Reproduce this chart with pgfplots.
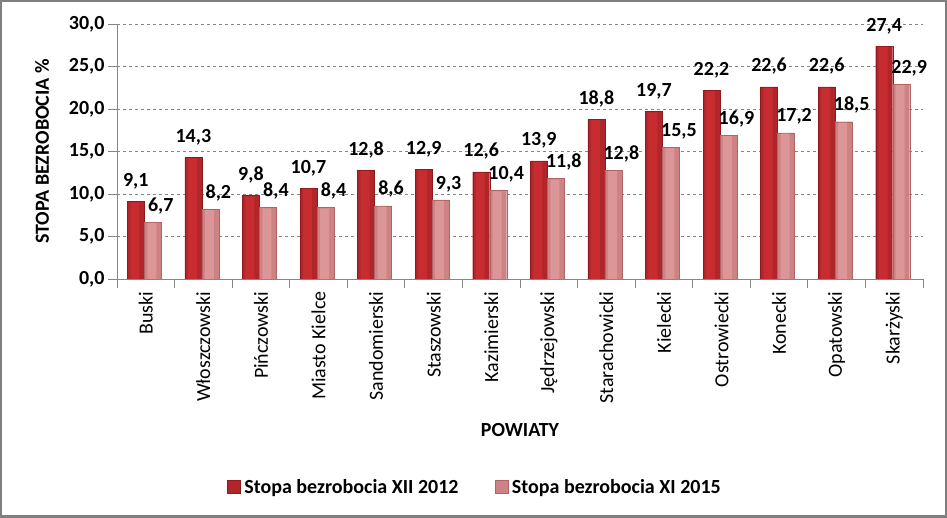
\documentclass[border=0pt]{standalone}
\usepackage{fontspec}
\setmainfont{Carlito}
\usepackage{pgfplots}
\usepackage{pgfplotstable}
\pgfplotsset{compat=1.18}

\definecolor{darkbar}{HTML}{C62C30}
\definecolor{darkmid}{HTML}{B0262A}
\definecolor{darkedge}{HTML}{8E1A1D}
\definecolor{lightbar}{HTML}{DC9697}
\definecolor{lightmid}{HTML}{CD8284}
\definecolor{lightedge}{HTML}{B06466}
\definecolor{axisgray}{HTML}{868686}
\definecolor{framegray}{HTML}{7F7F7F}

\newcommand{\chfont}{\fontsize{20}{24}\selectfont}

% x, XII 2012, XI 2015
\pgfplotstableread{
x  a     b
0  9.1   6.7
1  14.3  8.2
2  9.8   8.4
3  10.7  8.4
4  12.8  8.6
5  12.9  9.3
6  12.6  10.4
7  13.9  11.8
8  18.8  12.8
9  19.7  15.5
10 22.2  16.9
11 22.6  17.2
12 22.6  18.5
13 27.4  22.9
}\datatable

\begin{document}
\begin{tikzpicture}
\useasboundingbox (-117pt,-239pt) rectangle (830pt,279pt);
\begin{axis}[
    at={(0pt,0pt)}, anchor=south west,
    scale only axis,
    width=806pt, height=255pt,
    ybar=0pt, bar width=17pt,
    ymin=0, ymax=30, ytick={0,5,...,30},
    xmin=-0.5, xmax=13.5,
    xtick={0,...,13},
    xticklabels={Buski, Włoszczowski, Pińczowski, Miasto Kielce, Sandomierski,
        Staszowski, Kazimierski, Jędrzejowski, Starachowicki, Kielecki,
        Ostrowiecki, Konecki, Opatowski, Skarżyski},
    minor xtick={-0.5,0.5,...,13.5},
    axis x line*=bottom, axis y line*=left,
    axis line style={axisgray, line width=0.8pt, -},
    tick align=outside,
    major tick length=9pt, minor tick length=9pt,
    major x tick style={draw=none},
    tick style={axisgray, line width=0.8pt},
    ymajorgrids=true,
    grid style={dashed, axisgray, line width=0.8pt},
    /pgf/number format/assume math mode=true,
    x tick label style={rotate=90, anchor=east, font=\chfont},
    yticklabel style={font=\bfseries\chfont,
        /pgf/number format/.cd, fixed, fixed zerofill, precision=1, use comma},
    ylabel={\bfseries STOPA BEZROBOCIA \%},
    ylabel style={at={(axis description cs:-0.093,0.5)}, anchor=center, font=\chfont},
    xlabel={\bfseries POWIATY},
    xlabel style={at={(axis description cs:0.5,-0.592)}, anchor=center, font=\chfont},
    every node near coord/.append style={font=\bfseries\chfont, anchor=south, inner sep=0pt, text=black},
    legend columns=2,
    legend style={at={(axis description cs:0.444,-0.8157)}, anchor=center,
        draw=none, font=\bfseries\chfont, column sep=2pt},
    legend image code/.code={\draw[#1] (0pt,-6pt) rectangle (13pt,7pt);},
]

% XII 2012
\addplot[bar shift=-10pt, bar width=17pt, draw=darkedge, line width=0.4pt, fill=darkmid,
    nodes near coords={\pgfmathprintnumber[fixed, fixed zerofill, precision=1, use comma]{\pgfplotspointmeta}},
    every node near coord/.append style={yshift=12pt}]
    table[x=x, y=a] {\datatable};
\addlegendentry{Stopa bezrobocia XII 2012\kern32pt\null}

% XI 2015
\addplot[bar shift=7pt, bar width=17pt, draw=lightedge, line width=0.4pt, fill=lightmid,
    nodes near coords={\pgfmathprintnumber[fixed, fixed zerofill, precision=1, use comma]{\pgfplotspointmeta}},
    every node near coord/.append style={yshift=8pt, xshift=8pt}]
    table[x=x, y=b] {\datatable};
\addlegendentry{Stopa bezrobocia XI 2015}

% brighter centre of each bar
\addplot[forget plot, bar shift=-11pt, bar width=9pt, draw=none, fill=darkbar]
    table[x=x, y expr=\thisrow{a}-0.1] {\datatable};
\addplot[forget plot, bar shift=6pt, bar width=9pt, draw=none, fill=lightbar]
    table[x=x, y expr=\thisrow{b}-0.1] {\datatable};

\end{axis}
\draw[framegray, line width=2.5pt] (-115.75pt,-237.75pt) rectangle (828.75pt,277.75pt);
\end{tikzpicture}
\end{document}
